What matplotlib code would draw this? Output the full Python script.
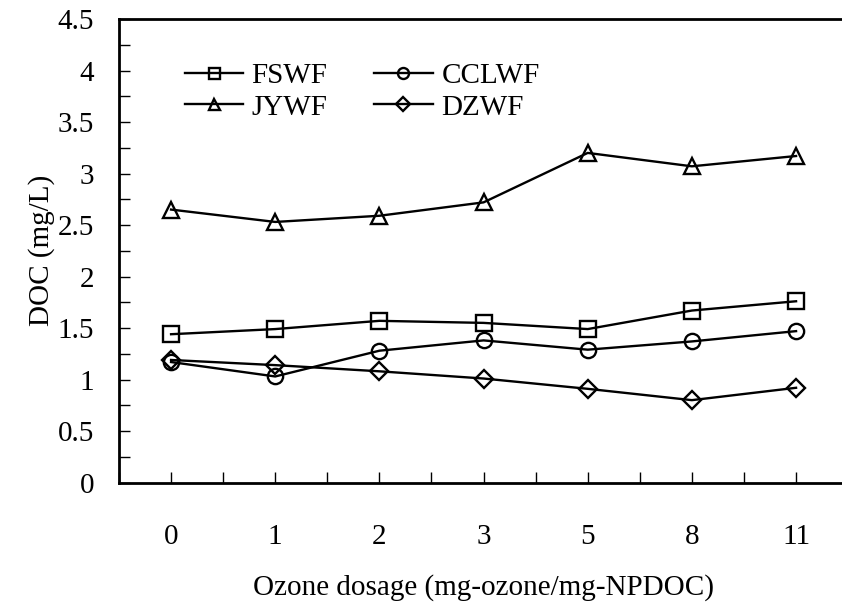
import matplotlib.pyplot as plt
from matplotlib.ticker import MultipleLocator

# ozone dosage categories
doses = ['0', '1', '2', '3', '5', '8', '11']

# DOC (mg/L) per water plant
fswf = [1.44, 1.49, 1.57, 1.55, 1.49, 1.67, 1.76]
cclwf = [1.17, 1.03, 1.28, 1.38, 1.29, 1.37, 1.47]
jywf = [2.65, 2.53, 2.59, 2.72, 3.20, 3.07, 3.17]
dzwf = [1.19, 1.14, 1.08, 1.01, 0.91, 0.80, 0.92]

plt.rcParams['font.family'] = ['Liberation Serif', 'DejaVu Serif']
plt.rcParams['font.size'] = 21

fig = plt.figure(figsize=(8.42, 6.07), dpi=100)
ax = fig.add_axes([0.1413, 0.205, 0.866, 0.7637])

x = list(range(len(doses)))
style = dict(color='black', lw=1.7, mew=1.7, fillstyle='none', ms=11)
ax.plot(x, fswf, marker='s', label='FSWF', **style)
ax.plot(x, jywf, marker='^', label='JYWF', **style)
ax.plot(x, cclwf, marker='o', label='CCLWF', **style)
ax.plot(x, dzwf, marker='D', label='DZWF', **dict(style, ms=9.5))

ax.set_xlim(-0.5, 6.5)
ax.set_ylim(0, 4.5)
ax.set_xticks(x)
ax.set_xticklabels(doses)
ax.xaxis.set_minor_locator(MultipleLocator(0.5))
ax.yaxis.set_major_locator(MultipleLocator(0.5))
ax.yaxis.set_minor_locator(MultipleLocator(0.25))
ax.set_yticklabels([f'{v:g}' for v in ax.get_yticks()])

ax.tick_params(axis='both', which='both', direction='in', length=8, width=1, color='black')
ax.tick_params(axis='x', pad=30)
ax.tick_params(axis='y', pad=18)

for s in ax.spines.values():
    s.set_linewidth(2)

ax.set_xlabel('Ozone dosage (mg-ozone/mg-NPDOC)', labelpad=17)
ax.set_ylabel('DOC (mg/L)', labelpad=2)

ax.legend(ncol=2, frameon=False, loc='upper left', bbox_to_anchor=(0.09, 0.905),
          borderpad=0, borderaxespad=0, handlelength=2.0, handletextpad=0.3,
          labelspacing=0.16, columnspacing=1.6, markerscale=0.72)

fig.savefig('out.png', dpi=100)
